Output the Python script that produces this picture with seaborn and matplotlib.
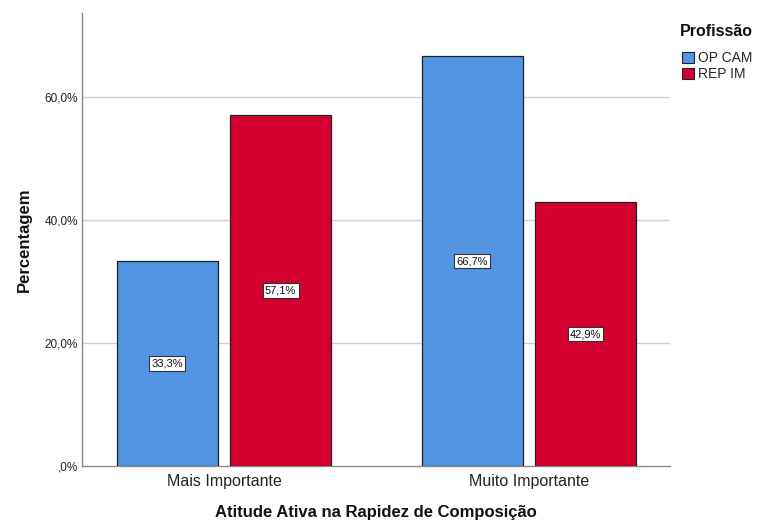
import matplotlib
matplotlib.use("Agg")
import matplotlib.pyplot as plt
import matplotlib.patches as mpatches
import seaborn as sns
import pandas as pd

categories = ["Mais Importante", "Muito Importante"]
professions = ["OP CAM", "REP IM"]
op_cam = [33.3, 66.7]
rep_im = [57.1, 42.9]
y_ticks = [0, 20, 40, 60]
y_tick_labels = [",0%", "20,0%", "40,0%", "60,0%"]
colors = ["#5394e3", "#d3002f"]

df = pd.DataFrame({
    "Atitude": categories * 2,
    "Profissão": [professions[0]] * 2 + [professions[1]] * 2,
    "Percentagem": op_cam + rep_im,
})

sns.set_theme(style="white")
plt.rcParams["font.family"] = ["Liberation Sans", "DejaVu Sans"]

W, H = 757, 527
fig = plt.figure(figsize=(W / 100, H / 100), dpi=100)
ax = fig.add_axes([0.1083, 0.1157, 0.885 - 0.1083, 0.9753 - 0.1157])

sns.barplot(data=df, x="Atitude", y="Percentagem", hue="Profissão",
            order=categories, hue_order=professions, palette=colors,
            saturation=1, width=0.744, gap=0.11, edgecolor="#222222",
            linewidth=0.9, errorbar=None, legend=False, ax=ax, zorder=3)

ax.set_xlim(-0.466, 1.463)
ax.set_ylim(0, 73.7)
ax.set_yticks(y_ticks)
ax.set_yticklabels(y_tick_labels, fontsize=8.5, color="#222222")
ax.tick_params(axis="y", length=0, pad=3)
ax.tick_params(axis="x", length=0, pad=6, labelsize=11.5, labelcolor="#222222")
for y in y_ticks[1:]:
    ax.axhline(y, color="#cfcfcf", linewidth=1.0, zorder=1)

for side in ["top", "right"]:
    ax.spines[side].set_visible(False)
for side in ["left", "bottom"]:
    ax.spines[side].set_color("#888888")
    ax.spines[side].set_linewidth(1.0)

ax.set_xlabel("Atitude Ativa na Rapidez de Composição", fontsize=12,
              fontweight="bold", labelpad=11, color="#111111")
ax.set_ylabel("Percentagem", fontsize=12, fontweight="bold",
              labelpad=9, color="#111111")

# value labels centred in each bar
for cont in ax.containers:
    for bar in cont:
        h = bar.get_height()
        ax.text(bar.get_x() + bar.get_width() / 2, h / 2,
                f"{h:.1f}%".replace(".", ","), ha="center", va="center",
                fontsize=8, color="#111111", zorder=5,
                bbox=dict(boxstyle="square,pad=0.2", facecolor="white",
                          edgecolor="#333333", linewidth=0.8))

# legend: title drawn separately so the gap above the entries can be set
fig.text(680 / W, 1 - 31 / H, "Profissão", fontsize=11.5, fontweight="bold",
         ha="left", va="center", color="#111111")
handles = [mpatches.Patch(facecolor=c, edgecolor="#222222", linewidth=0.8, label=p)
           for c, p in zip(colors, professions)]
leg = fig.legend(handles=handles, loc="upper left",
                 bbox_to_anchor=(681 / W, 1 - 50 / H), frameon=False, fontsize=10,
                 handlelength=0.8, handleheight=0.8, handletextpad=0.3,
                 labelspacing=0.12, borderaxespad=0, borderpad=0.1)

fig.savefig("out.png", dpi=100)
